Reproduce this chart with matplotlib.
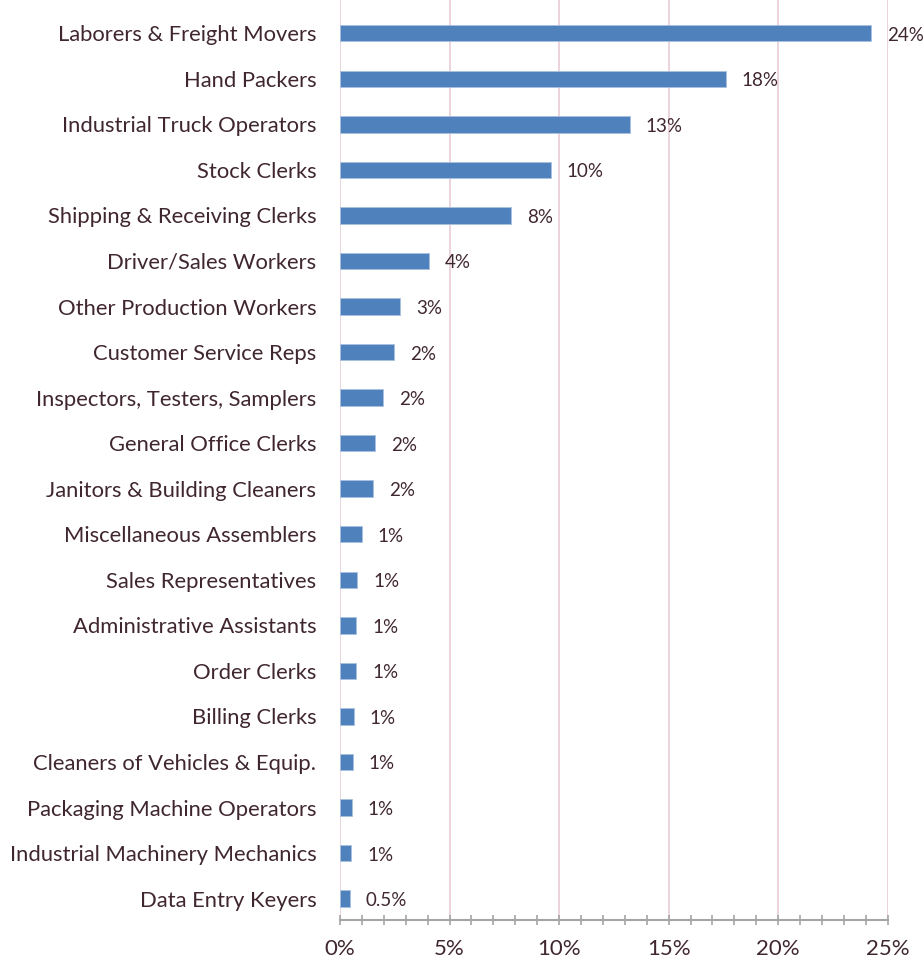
import matplotlib
matplotlib.use("Agg")
import matplotlib.pyplot as plt
from matplotlib.ticker import MultipleLocator, FuncFormatter

categories = [
    "Laborers & Freight Movers", "Hand Packers", "Industrial Truck Operators",
    "Stock Clerks", "Shipping & Receiving Clerks", "Driver/Sales Workers",
    "Other Production Workers", "Customer Service Reps",
    "Inspectors, Testers, Samplers", "General Office Clerks",
    "Janitors & Building Cleaners", "Miscellaneous Assemblers",
    "Sales Representatives", "Administrative Assistants", "Order Clerks",
    "Billing Clerks", "Cleaners of Vehicles & Equip.",
    "Packaging Machine Operators", "Industrial Machinery Mechanics",
    "Data Entry Keyers",
]
values = [24.26, 17.6, 13.22, 9.61, 7.8, 4.06, 2.73, 2.45, 1.96, 1.62,
          1.49, 1.0, 0.79, 0.74, 0.74, 0.63, 0.59, 0.54, 0.5, 0.45]
value_labels = ["24%", "18%", "13%", "10%", "8%", "4%", "3%", "2%", "2%", "2%",
                "2%", "1%", "1%", "1%", "1%", "1%", "1%", "1%", "1%", "0.5%"]

txt = "#40272f"
plt.rcParams['font.family'] = ['Lato', 'DejaVu Sans']

fig = plt.figure(figsize=(9.24, 9.61), dpi=100)
ax = fig.add_axes([340/924, 1 - 920/961, (887.7-340)/924, 920/961])

ypos = list(range(len(categories)))
ax.barh(ypos, values, height=0.36, color="#4f81bd", edgecolor="#a9c1e0",
        linewidth=0.6, zorder=3)
for y, v, lab in zip(ypos, values, value_labels):
    ax.annotate(lab, xy=(v, y), xytext=(16, -2), textcoords="offset pixels",
                ha="left", va="center", fontsize=13.5, color=txt, zorder=4)

ax.set_xlim(0, 25)
ax.set_ylim(19.47, -0.73)
ax.set_yticks(ypos)
ax.set_yticklabels(categories, fontsize=15.8, color=txt)
ax.tick_params(axis='y', length=0, pad=17)

ax.xaxis.set_major_locator(MultipleLocator(5))
ax.xaxis.set_minor_locator(MultipleLocator(1))
ax.xaxis.set_major_formatter(FuncFormatter(lambda x, p: f"{x:.0f}%"))
ax.tick_params(axis='x', which='both', direction='inout', length=7,
               width=1.2, color="#a6a6a6", labelsize=16, labelcolor=txt, pad=10)
ax.grid(axis='x', which='major', color="#ecd3dc", linewidth=1.4, zorder=0)
ax.set_axisbelow(True)

for s in ['top', 'right', 'left']:
    ax.spines[s].set_visible(False)
ax.spines['bottom'].set_color("#a6a6a6")
ax.spines['bottom'].set_linewidth(1.5)

fig.savefig("out.png", dpi=100)
